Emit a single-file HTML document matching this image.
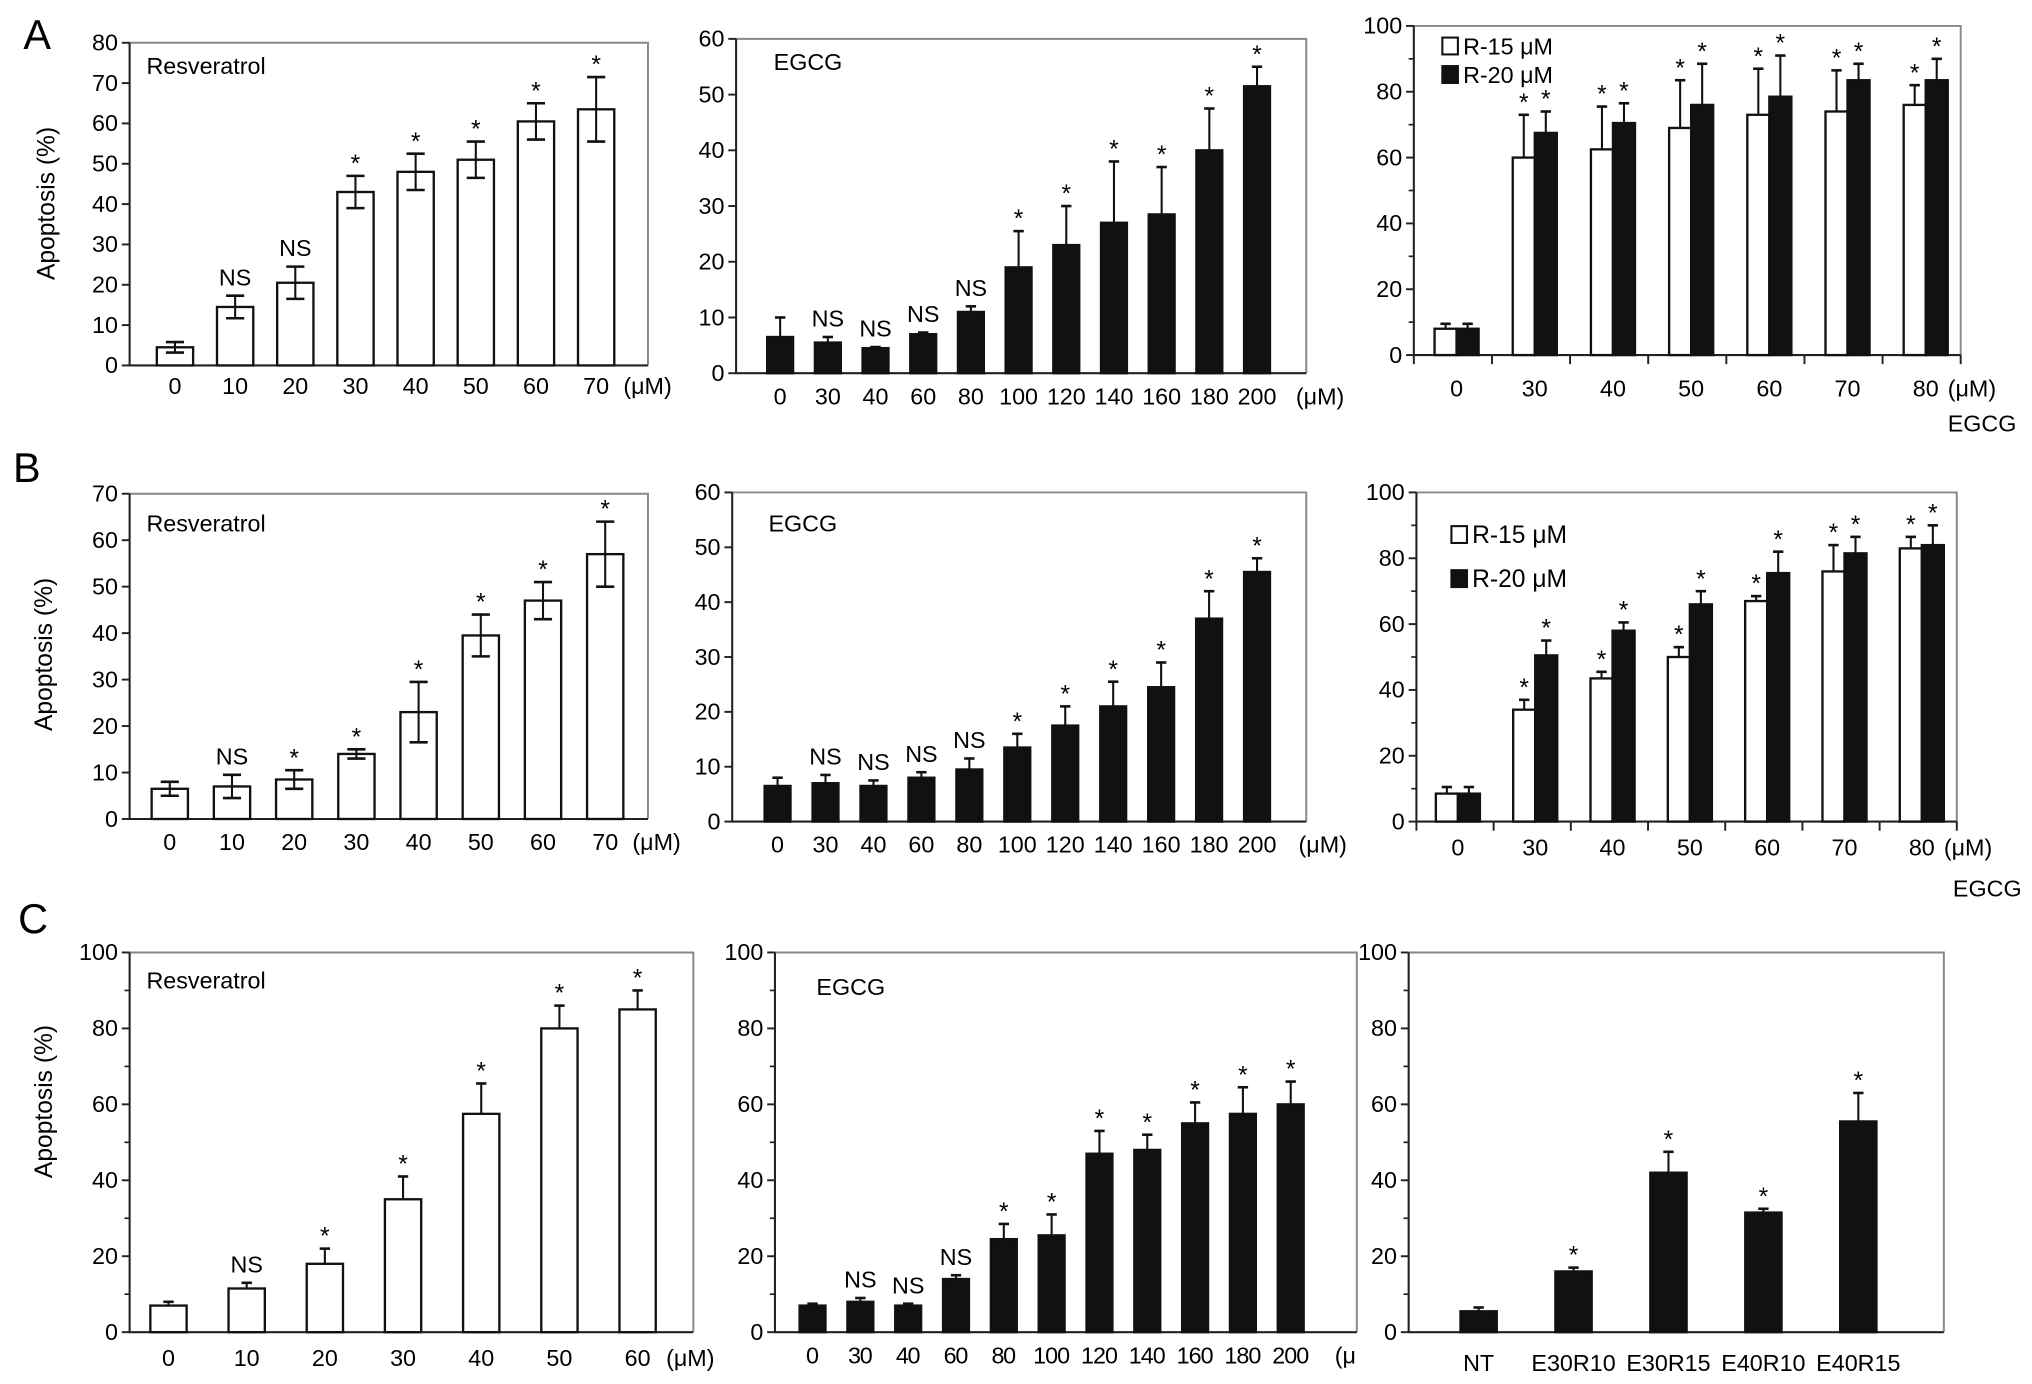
<!DOCTYPE html>
<html><head><meta charset="utf-8"><style>
html,body{margin:0;padding:0;background:#fff;}
svg{display:block;font-family:"Liberation Sans",sans-serif;}
</style></head><body>
<svg id="fig" width="2032" height="1384" viewBox="0 0 1568 1068" xmlns="http://www.w3.org/2000/svg">
<rect width="1568" height="1068" fill="#fff"/>
<text x="18" y="38" font-size="32">A</text>
<text x="10" y="372" font-size="32">B</text>
<text x="14" y="720" font-size="32">C</text>
<text transform="translate(42,157) rotate(-90)" text-anchor="middle" font-size="19">Apoptosis (%)</text>
<text transform="translate(40,505) rotate(-90)" text-anchor="middle" font-size="19">Apoptosis (%)</text>
<text transform="translate(40,850) rotate(-90)" text-anchor="middle" font-size="19">Apoptosis (%)</text>
</svg>
<script>
// ---- data ----
const resCatsA = ["0","10","20","30","40","50","60","70"];
const resValsA = [4.5,14.5,20.5,43,48,51,60.5,63.5];
const resErrA = [1.3,2.8,4,4,4.5,4.5,4.5,8];
const resSigA = ["","NS","NS","*","*","*","*","*"];
const egcgCatsA = ["0","30","40","60","80","100","120","140","160","180","200"];
const egcgValsA = [6.5,5.5,4.5,7,11,19,23,27,28.5,40,51.5];
const egcgErrA = [3.5,1,0.2,0.3,1,6.5,7,11,8.5,7.5,3.5];
const egcgSigA = ["","NS","NS","NS","NS","*","*","*","*","*","*"];
const comboCats = ["0","30","40","50","60","70","80"];
const comboR15A = [8,60,62.5,69,73,74,76];
const comboR15ErrA = [1.5,13,13,14.5,14,12.5,6];
const comboR20A = [8,67.5,70.5,76,78.5,83.5,83.5];
const comboR20ErrA = [1.5,6.5,6,12.5,12.5,5,6.5];
const comboSig = ["","*","*","*","*","*","*"];

const resCatsB = ["0","10","20","30","40","50","60","70"];
const resValsB = [6.5,7,8.5,14,23,39.5,47,57];
const resErrB = [1.5,2.5,2,1,6.5,4.5,4,7];
const resSigB = ["","NS","*","*","*","*","*","*"];
const egcgValsB = [6.5,7,6.5,8,9.5,13.5,17.5,21,24.5,37,45.5];
const egcgErrB = [1.5,1.5,1,1,2,2.5,3.5,4.5,4.5,5,2.5];
const comboR15B = [8.5,34,43.5,50,67,76,83];
const comboR15ErrB = [2,3,2,3,1.5,8,3.5];
const comboR20B = [8.5,50.5,58,66,75.5,81.5,84];
const comboR20ErrB = [2,4.5,2.5,4,6.5,5,6];

const resCatsC = ["0","10","20","30","40","50","60"];
const resValsC = [7,11.5,18,35,57.5,80,85];
const resErrC = [1,1.5,4,6,8,6,5];
const resSigC = ["","NS","*","*","*","*","*"];
const egcgValsC = [7,8,7,14,24.5,25.5,47,48,55,57.5,60];
const egcgErrC = [0.5,1,0.5,1,4,5.5,6,4,5.5,7,6];
const egcgSigC = ["","NS","NS","NS","*","*","*","*","*","*","*"];
const mixCats = ["NT","E30R10","E30R15","E40R10","E40R15"];
const mixVals = [5.5,16,42,31.5,55.5];
const mixErr = [1,1,5.5,1,7.5];
const mixSig = ["","*","*","*","*"];

const NS = "http://www.w3.org/2000/svg";
const svg = document.getElementById('fig');
function mk(tag, attrs, parent){const e=document.createElementNS(NS,tag);for(const k in attrs)e.setAttribute(k,attrs[k]);(parent||svg).appendChild(e);return e;}

function panel(p){
  const g = mk('g',{});
  
  
  const y = v => p.y0 - (v/p.max)*(p.y0-p.y1);
  const fr = mk('path',{d:`M${p.x0} ${p.y1} H${p.x1} V${p.y0}`,fill:'none',stroke:'#888','stroke-width':1.5},g);
  
  
  const ax = mk('path',{d:`M${p.x0} ${p.y1} V${p.y0} H${p.x1}`,fill:'none',stroke:'#222','stroke-width':1.6},g);
  
  
  for(let v=0; v<=p.max+1e-9; v+=p.step){
    mk('line',{x1:p.x0-6,x2:p.x0,y1:y(v),y2:y(v),stroke:'#222','stroke-width':1.5},g);
    const t = mk('text',{x:p.x0-9,y:y(v)+6,'text-anchor':'end','font-size':18},g);
    t.textContent = v;
    
    
  }
  if(p.minor){for(let v=p.minor; v<p.max; v+=p.step){mk('line',{x1:p.x0-4,x2:p.x0,y1:y(v),y2:y(v),stroke:'#222','stroke-width':1.3},g);}}
  if(p.title){const t=mk('text',{x:p.title[1],y:p.title[2],'font-size':18},g);t.textContent=p.title[0];
    
    }
  const n = p.cats.length;
  const slot = (p.xe - p.xs)/(n-1);
  const cx = i => p.xs + i*slot;
  if(p.groupTicks){const gw=(p.x1-p.x0)/n;for(let i=0;i<=n;i++){mk('line',{x1:p.x0+i*gw,x2:p.x0+i*gw,y1:p.y0,y2:p.y0+7,stroke:'#222','stroke-width':1.5},g);}}
  p.series.forEach((s,si)=>{
    s.vals.forEach((v,i)=>{
      const off = p.series.length>1 ? (si-0.5)*p.bw : 0;
      const c = cx(i)+off;
      const top=y(v);
      const r = mk('rect',{x:c-p.bw/2,y:top,width:p.bw,height:p.y0-top,fill:s.fill,stroke:'#111','stroke-width':1.8},g);
      
      
      const e=s.err[i], yt=y(v+e), yb = s.both? y(v-e): top;
      mk('line',{x1:c,x2:c,y1:yt,y2:yb,stroke:'#111','stroke-width':1.6},g);
      const cw = s.both?7:4;
      mk('line',{x1:c-cw,x2:c+cw,y1:yt,y2:yt,stroke:'#111','stroke-width':2},g);
      if(s.both) mk('line',{x1:c-cw,x2:c+cw,y1:yb,y2:yb,stroke:'#111','stroke-width':2},g);
      const sg = s.sig[i];
      if(sg){const t=mk('text',{x:c,y:yt-(sg==='*'?3:8),'text-anchor':'middle','font-size':sg==='*'?19:18},g);t.textContent=sg;
        
        }
    });
  });
  p.cats.forEach((c,i)=>{const t=mk('text',{x:cx(i),y:p.ly,'text-anchor':'middle','font-size':18},g);t.textContent=c;
    if(p.squeeze) t.setAttribute('textLength', Math.min(c.length*9.5, slot-1));
    
    });
  if(p.unit){const t=mk('text',{x:p.unit[0],y:p.ly,'font-size':18},g);t.textContent=p.unit[1];
    
    }
  if(p.xlab){const t=mk('text',{x:p.xlab[0],y:p.xlab[1],'font-size':18,'text-anchor':'end'},g);t.textContent='EGCG';
    
    }
  if(p.legend){const L=p.legend;[["R-15 μM","#fff",0],["R-20 μM","#111",1]].forEach(([lab,f,k])=>{
    const yy=L[1]+k*L[2];
    const r=mk('rect',{x:L[0],y:yy-12,width:12,height:13,fill:f,stroke:'#111','stroke-width':1.6},g);
    
    
    const t=mk('text',{x:L[0]+16,y:yy+1,'font-size':L[3]},g);t.textContent=lab;
    
    });}
}
const white = (vals,err,sig)=>({vals,err,sig,fill:'#fff',both:true});
const black = (vals,err,sig)=>({vals,err,sig,fill:'#111',both:false});

panel({name:'chart-a-resveratrol',x0:100,x1:500,y0:282,y1:33,max:80,step:10,xs:135,xe:460,bw:28,cats:resCatsA,ly:304,unit:[481,'(μM)'],title:['Resveratrol',113,57],series:[white(resValsA,resErrA,resSigA)]});
panel({name:'chart-a-egcg',x0:568,x1:1008,y0:288,y1:30,max:60,step:10,xs:602,xe:970,bw:20,cats:egcgCatsA,ly:312,unit:[1000,'(μM)'],title:['EGCG',597,54],series:[black(egcgValsA,egcgErrA,egcgSigA)]});
panel({name:'chart-a-combination',x0:1091,x1:1513,y0:274,y1:20,max:100,step:20,minor:10,xs:1124,xe:1486,bw:17,cats:comboCats,ly:306,unit:[1503,'(μM)'],xlab:[1556,333],groupTicks:true,legend:[1113,41,22,18],
  series:[Object.assign(black(comboR15A,comboR15ErrA,comboSig),{fill:'#fff',key:'r15-'}),Object.assign(black(comboR20A,comboR20ErrA,comboSig),{key:'r20-'})]});

panel({name:'chart-b-resveratrol',x0:100,x1:500,y0:632,y1:381,max:70,step:10,xs:131,xe:467,bw:28,cats:resCatsB,ly:656,unit:[488,'(μM)'],title:['Resveratrol',113,410],series:[white(resValsB,resErrB,resSigB)]});
panel({name:'chart-b-egcg',x0:565,x1:1008,y0:634,y1:380,max:60,step:10,xs:600,xe:970,bw:20,cats:egcgCatsA,ly:658,unit:[1002,'(μM)'],title:['EGCG',593,410],series:[black(egcgValsB,egcgErrB,egcgSigA)]});
panel({name:'chart-b-combination',x0:1093,x1:1510,y0:634,y1:380,max:100,step:20,minor:10,xs:1125,xe:1483,bw:17,cats:comboCats,ly:660,unit:[1500,'(μM)'],xlab:[1560,692],groupTicks:true,legend:[1120,418,34,19],
  series:[Object.assign(black(comboR15B,comboR15ErrB,comboSig),{fill:'#fff',key:'r15-'}),Object.assign(black(comboR20B,comboR20ErrB,comboSig),{key:'r20-'})]});

panel({name:'chart-c-resveratrol',x0:100,x1:535,y0:1028,y1:735,max:100,step:20,minor:10,xs:130,xe:492,bw:28,cats:resCatsC,ly:1054,unit:[514,'(μM)'],title:['Resveratrol',113,763],series:[Object.assign(black(resValsC,resErrC,resSigC),{fill:'#fff'})]});
panel({name:'chart-c-egcg',x0:598,x1:1047,y0:1028,y1:735,max:100,step:20,minor:10,xs:627,xe:996,bw:20,cats:egcgCatsA,ly:1052,squeeze:true,unit:[1030,'(μ'],title:['EGCG',630,768],series:[black(egcgValsC,egcgErrC,egcgSigC)]});
panel({name:'chart-c-combination',x0:1087,x1:1500,y0:1028,y1:735,max:100,step:20,minor:10,xs:1141,xe:1434,bw:28,cats:mixCats,ly:1058,series:[black(mixVals,mixErr,mixSig)]});
</script>
</body></html>
